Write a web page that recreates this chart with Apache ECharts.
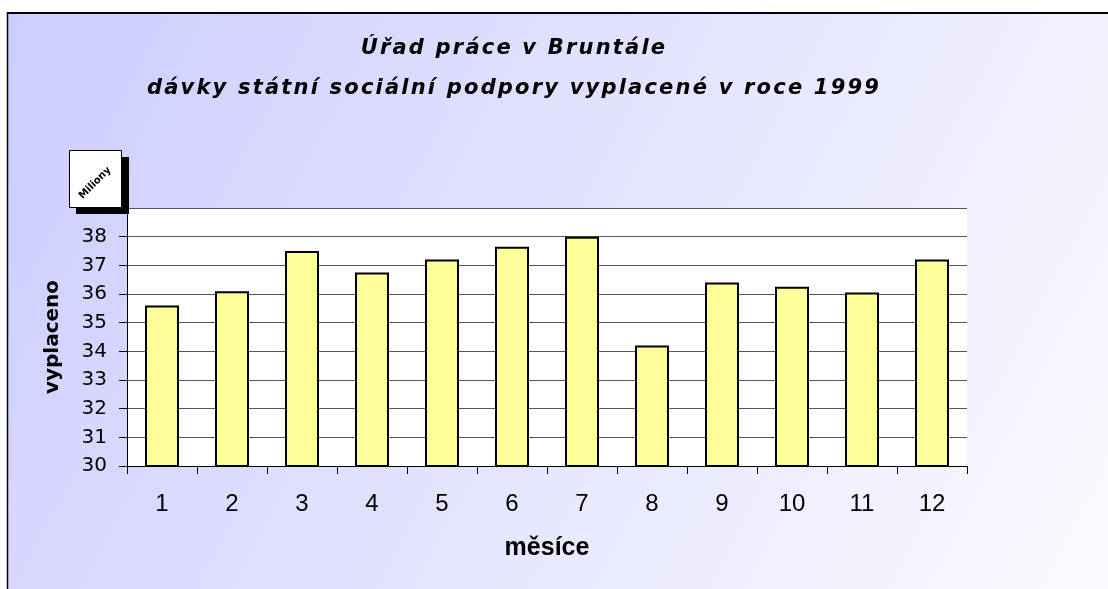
<!DOCTYPE html>
<html>
<head>
<meta charset="utf-8">
<script src="https://cdn.jsdelivr.net/npm/echarts@6/dist/echarts.min.js"></script>
<style>
  html, body { margin: 0; padding: 0; background: #fff; }
  #wrap { position: relative; width: 1108px; height: 589px; }
  #chart { width: 1108px; height: 589px; }
  .ttl {
    position: absolute; left: 0; width: 1028px; text-align: center;
    font-family: 'DejaVu Sans'; font-weight: bold; font-style: italic;
    font-size: 21px; letter-spacing: 2.2px; color: #000; line-height: 22px;
  }
</style>
</head>
<body>
<div id="wrap">
  <div id="chart"></div>
  <div class="ttl" id="t1" style="top:36px"></div>
  <div class="ttl" id="t2" style="top:76px"></div>
</div>
<script>
// data
const months = ['1', '2', '3', '4', '5', '6', '7', '8', '9', '10', '11', '12'];
const paid = [35.6, 36.1, 37.5, 36.75, 37.2, 37.65, 38.0, 34.2, 36.4, 36.25, 36.05, 37.2];
const titleLines = ['Úřad práce v Bruntále', 'dávky státní sociální podpory vyplacené v roce 1999'];

document.getElementById('t1').textContent = titleLines[0];
document.getElementById('t2').textContent = titleLines[1];

const mChart = echarts.init(document.getElementById('chart'));

const option = {
  backgroundColor: new echarts.graphic.LinearGradient(0, 0, 1, 1, [
    { offset: 0, color: '#ccccff' },
    { offset: 1, color: '#fbfbff' }
  ]),
  animation: false,
  grid: {
    left: 127,
    right: 141,
    top: 208,
    bottom: 123,
    show: true,
    backgroundColor: '#fff',
    borderWidth: 0
  },
  xAxis: {
    type: 'category',
    data: months,
    name: 'měsíce',
    nameLocation: 'middle',
    nameGap: 70,
    nameTextStyle: { fontFamily: 'Liberation Sans', fontWeight: 'bold', fontSize: 25, color: '#000' },
    axisLine: { lineStyle: { color: '#000', width: 1 } },
    axisTick: { show: true, length: 8, lineStyle: { color: '#000' } },
    axisLabel: { fontFamily: 'Liberation Sans', fontSize: 24, color: '#000', margin: 26 }
  },
  yAxis: {
    type: 'value',
    min: 30,
    max: 39,
    interval: 1,
    name: 'vyplaceno',
    nameLocation: 'middle',
    nameGap: 64,
    nameTextStyle: { fontFamily: 'DejaVu Sans', fontWeight: 'bold', fontSize: 20, color: '#000' },
    axisLine: { show: true, lineStyle: { color: '#000', width: 1 } },
    axisTick: { show: true, length: 8, lineStyle: { color: '#000' } },
    axisLabel: { fontFamily: 'DejaVu Sans', fontSize: 20, color: '#000', margin: 20 },
    splitLine: { lineStyle: { color: '#555', width: 1 } }
  },
  series: [
    {
      type: 'bar',
      data: paid,
      barWidth: 34,
      itemStyle: { color: '#ffff99', borderColor: '#000', borderWidth: 2 }
    }
  ],
  graphic: [
    // white margin and frame lines
    { type: 'rect', z: 100, shape: { x: 0, y: 0, width: 1108, height: 12 }, style: { fill: '#fff' } },
    { type: 'rect', z: 100, shape: { x: 0, y: 0, width: 7, height: 589 }, style: { fill: '#fff' } },
    { type: 'line', z: 101, shape: { x1: 7, y1: 13, x2: 1108, y2: 13 }, style: { stroke: '#000', lineWidth: 2 } },
    { type: 'line', z: 101, shape: { x1: 7.5, y1: 12, x2: 7.5, y2: 589 }, style: { stroke: '#000', lineWidth: 1.5 } },
    // "Miliony" unit box
    { type: 'rect', z: 100, shape: { x: 76, y: 157, width: 53, height: 57 }, style: { fill: '#000' } },
    { type: 'rect', z: 101, shape: { x: 69.5, y: 150.5, width: 52, height: 57 }, style: { fill: '#fff', stroke: '#000', lineWidth: 1 } },
    {
      type: 'text', z: 102, x: 95, y: 183, rotation: Math.PI / 4,
      style: { text: 'Miliony', fontFamily: 'DejaVu Sans', fontWeight: 'bold', fontSize: 10, fill: '#000', align: 'center', verticalAlign: 'middle' }
    }
  ]
};

mChart.setOption(option);
</script>
</body>
</html>
